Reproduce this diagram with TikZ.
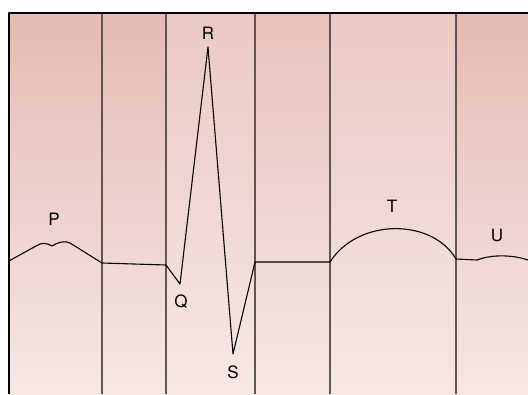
\documentclass[tikz,border=0pt]{standalone}
\usepackage{fontspec}
\setmainfont{TeX Gyre Heros}
\definecolor{bandDark}{RGB}{229,187,179}
\definecolor{bandMid}{RGB}{232,194,187}
\definecolor{bandLight}{RGB}{235,201,194}
\definecolor{bandLow}{RGB}{246,231,229}
\definecolor{divider}{RGB}{95,85,85}
\begin{document}
\begin{tikzpicture}[x=1pt, y=-1pt, line join=round,
    wave/.style={black, line width=1.1pt},
    lbl/.style={font=\fontsize{17}{20}\selectfont, inner sep=0pt}]
    \useasboundingbox (0,0) rectangle (528,394);
    % Hintergrund der Intervalle
    \foreach \xa/\xb/\col in {9/102/bandDark, 102/166/bandDark, 166/255/bandLight,
                              255/330/bandMid, 330/456/bandLight, 456/528/bandDark}
        \shade[top color=\col, bottom color=bandLow] (\xa,13) rectangle (\xb,394);
    % Trennlinien
    \foreach \xx in {102,166,255,330,456}
        \draw[divider, line width=1.3pt] (\xx,13) -- (\xx,394);
    % Rahmen oben und links
    \draw[black, line width=2pt] (9,394) -- (9,13) -- (528,13);

    % P-Welle
    \draw[wave] (9,261) -- (36,246) .. controls (42,242) and (47,243) .. (52,246)
        .. controls (57,243) and (63,240) .. (70,243) -- (102,263) -- (166,265);
    % QRS-Komplex
    \draw[wave] (166,265) -- (180,284) -- (208,47) -- (233,354) -- (255,262) -- (330,262);
    % T-Welle
    \draw[wave] (330,262) .. controls (358,218) and (432,218) .. (456,259);
    % U-Welle
    \draw[wave] (456,259) -- (477,260) .. controls (490,255) and (510,254) .. (528,260);

    % Beschriftung
    \node[lbl] (P) at (54,219) {P};
    \node[lbl] (R) at (208,33) {R};
    \node[lbl] (Q) at (181,302) {Q};
    \node[lbl] (S) at (233,372) {S};
    \node[lbl] (T) at (392,206) {T};
    \node[lbl] (U) at (497,235) {U};
\end{tikzpicture}
\end{document}
